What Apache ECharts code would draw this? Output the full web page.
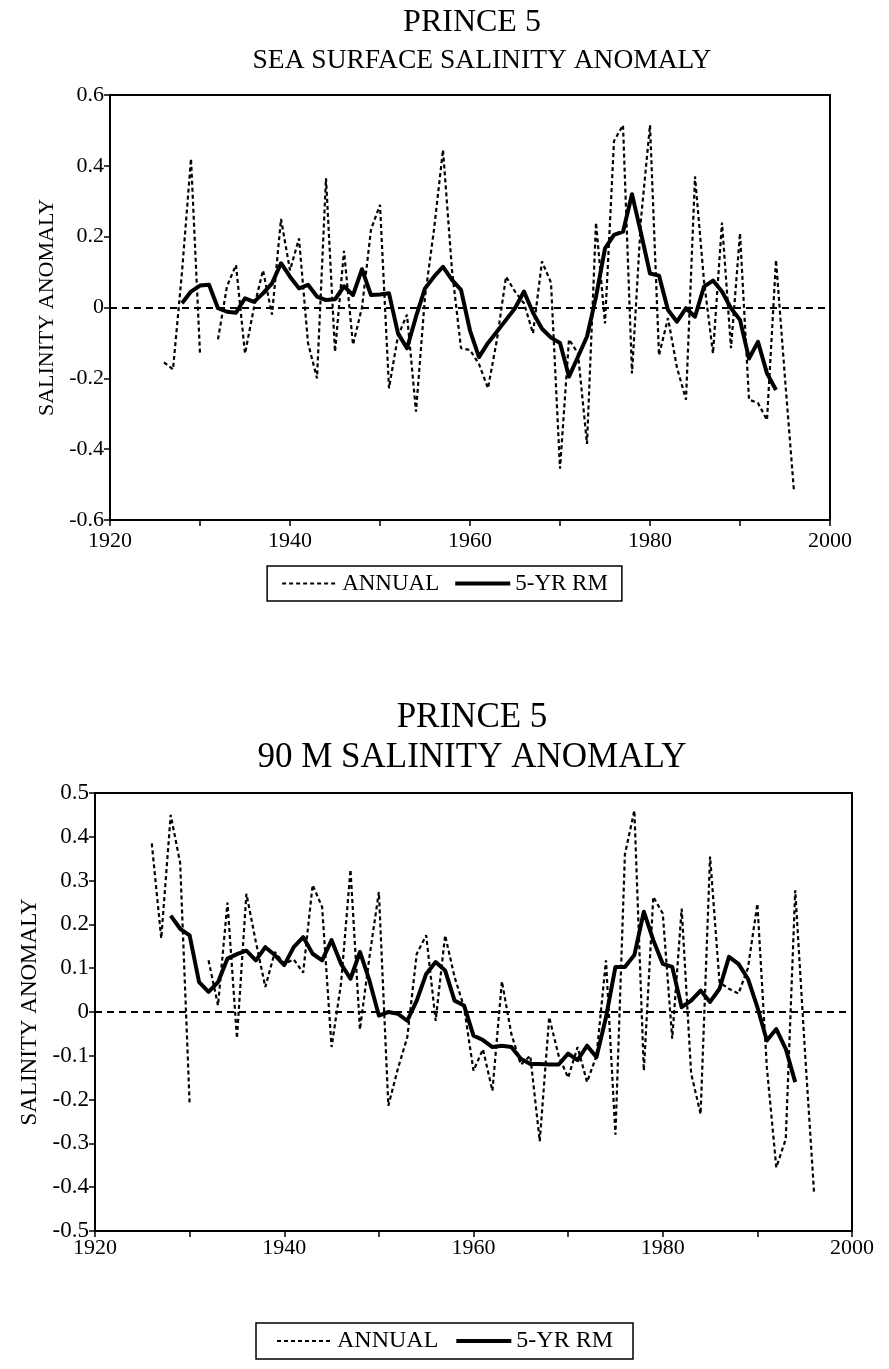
<!DOCTYPE html>
<html>
<head>
<meta charset="utf-8">
<script src="https://cdn.jsdelivr.net/npm/echarts@6/dist/echarts.min.js"></script>
<style>
html,body{margin:0;padding:0;background:#fff;}
#chart{width:889px;height:1369px;}
</style>
</head>
<body>
<div id="chart"></div>
<script>
// ---- data ----
var annualFirstYear = 1926;   // annual series: 1926 .. 1996 (1931 missing)
var rmFirstYear = 1928;       // 5-yr running mean: 1928 .. 1994

var sssAnnual = [
  -0.155, -0.175, 0.10, 0.42, -0.13, null, -0.09, 0.06, 0.12, -0.13,
  0.00, 0.105, -0.02, 0.25, 0.105, 0.195, -0.10, -0.20, 0.365, -0.125,
  0.16, -0.105, 0.00, 0.22, 0.29, -0.228, -0.08, -0.02, -0.294, 0.03,
  0.22, 0.445, 0.105, -0.115, -0.12, -0.16, -0.228, -0.09, 0.087, 0.045,
  0.012, -0.073, 0.13, 0.07, -0.455, -0.09, -0.13, -0.385, 0.24, -0.045,
  0.47, 0.515, -0.186, 0.25, 0.515, -0.135, -0.03, -0.17, -0.26, 0.37,
  0.075, -0.13, 0.24, -0.115, 0.21, -0.26, -0.27, -0.318, 0.134, -0.20,
  -0.52
];
var sssRM = [
  0.012, 0.045, 0.062, 0.064, -0.002, -0.012, -0.015, 0.026, 0.016, 0.04,
  0.068, 0.125, 0.087, 0.054, 0.064, 0.031, 0.021, 0.023, 0.06, 0.035,
  0.108, 0.035, 0.037, 0.04, -0.073, -0.115, -0.026, 0.054, 0.087, 0.115,
  0.078, 0.05, -0.065, -0.14, -0.10, -0.068, -0.035, -0.002, 0.045, -0.015,
  -0.06, -0.085, -0.10, -0.195, -0.139, -0.082, 0.03, 0.167, 0.205, 0.214,
  0.32, 0.21, 0.096, 0.09, -0.007, -0.04, -0.002, -0.026, 0.059, 0.076,
  0.045, -0.002, -0.035, -0.144, -0.097, -0.186, -0.233
];
var m90Annual = [
  0.385, 0.168, 0.45, 0.34, -0.21, null, 0.118, 0.015, 0.25, -0.06,
  0.27, 0.16, 0.057, 0.137, 0.11, 0.12, 0.09, 0.29, 0.24, -0.08,
  0.065, 0.325, -0.04, 0.125, 0.274, -0.214, -0.13, -0.058, 0.133, 0.175,
  -0.02, 0.175, 0.08, 0.011, -0.134, -0.085, -0.18, 0.07, -0.05, -0.12,
  -0.10, -0.295, -0.012, -0.10, -0.15, -0.08, -0.16, -0.10, 0.118, -0.28,
  0.36, 0.46, -0.134, 0.263, 0.225, -0.061, 0.236, -0.14, -0.233, 0.355,
  0.068, 0.053, 0.042, 0.10, 0.247, -0.126, -0.355, -0.29, 0.278, -0.08,
  -0.416
];
var m90RM = [
  0.22, 0.19, 0.175, 0.068, 0.046, 0.068, 0.122, 0.132, 0.14, 0.118,
  0.148, 0.13, 0.107, 0.148, 0.171, 0.133, 0.118, 0.164, 0.11, 0.076,
  0.137, 0.072, -0.008, 0.0, -0.004, -0.02, 0.026, 0.087, 0.114, 0.095,
  0.026, 0.015, -0.054, -0.064, -0.08, -0.077, -0.08, -0.107, -0.119, -0.119,
  -0.12, -0.12, -0.095, -0.11, -0.077, -0.103, -0.012, 0.103, 0.103, 0.13,
  0.229, 0.164, 0.11, 0.103, 0.011, 0.026, 0.049, 0.023, 0.053, 0.126,
  0.11, 0.076, 0.011, -0.065, -0.039, -0.084, -0.16
];

var titles = ['PRINCE 5', 'SEA SURFACE SALINITY ANOMALY', 'PRINCE 5', '90 M SALINITY ANOMALY'];
var legendNames = ['ANNUAL', '5-YR RM'];
var yAxisName = 'SALINITY ANOMALY';

// ---- build ----
function pairs(first, vals) {
  return vals.map(function (v, i) { return [first + i, v]; });
}
var FONT = '"Liberation Serif", "Times New Roman", serif';
var ANNUAL_DASH = [4, 3];
var ZERO_DASH = [7, 5];

function yFmt(v) {
  var s = (Math.round(v * 10) / 10).toFixed(1);
  return (s === '0.0' || s === '-0.0') ? '0' : s;
}
function xFmt(v) { return (v % 20 === 0) ? String(v) : ''; }

function xAxisCfg(gi, fs, margin) {
  return {
    type: 'value', gridIndex: gi, min: 1920, max: 2000, interval: 10,
    axisLine: { show: true, onZero: false, lineStyle: { color: '#000', width: 2 } },
    axisTick: { show: true, inside: false, length: 6, lineStyle: { color: '#000', width: 1.5 } },
    axisLabel: { formatter: xFmt, color: '#000', fontFamily: FONT, fontSize: fs, margin: margin },
    splitLine: { show: false }
  };
}
function yAxisCfg(gi, min, max, interval, fs, gap) {
  return {
    type: 'value', gridIndex: gi, min: min, max: max, interval: interval,
    name: yAxisName, nameLocation: 'middle', nameRotate: 90, nameGap: gap,
    nameTextStyle: { color: '#000', fontFamily: FONT, fontSize: fs },
    axisLine: { show: true, onZero: false, lineStyle: { color: '#000', width: 2 } },
    axisTick: { show: true, inside: false, length: 6, lineStyle: { color: '#000', width: 1.5 } },
    axisLabel: { formatter: yFmt, color: '#000', fontFamily: FONT, fontSize: fs, margin: 6 },
    splitLine: { show: false }
  };
}
function annualSeries(gi, vals) {
  return {
    name: legendNames[0], type: 'line', xAxisIndex: gi, yAxisIndex: gi,
    data: pairs(annualFirstYear, vals), symbol: 'none', showSymbol: false,
    connectNulls: false, animation: false,
    lineStyle: { color: '#000', width: 2.2, type: ANNUAL_DASH },
    itemStyle: { color: '#000' },
    markLine: {
      silent: true, symbol: ['none', 'none'], animation: false,
      label: { show: false },
      emphasis: { disabled: true },
      lineStyle: { color: '#000', width: 1.8, type: ZERO_DASH },
      data: [{ yAxis: 0 }]
    },
    z: 2
  };
}
function rmSeries(gi, vals) {
  return {
    name: legendNames[1], type: 'line', xAxisIndex: gi, yAxisIndex: gi,
    data: pairs(rmFirstYear, vals), symbol: 'none', showSymbol: false,
    animation: false,
    lineStyle: { color: '#000', width: 4, join: 'round' },
    itemStyle: { color: '#000' },
    z: 3
  };
}
function legendCfg(top, fs, padH, gap) {
  return {
    data: [
      { name: legendNames[0], lineStyle: { color: '#000', width: 2, type: ANNUAL_DASH } },
      { name: legendNames[1], lineStyle: { color: '#000', width: 4, type: 'solid' } }
    ],
    left: 'center', top: top, orient: 'horizontal',
    itemWidth: 55, itemHeight: 14, itemGap: gap,
    padding: [6, padH, 6, padH],
    borderColor: '#000', borderWidth: 1.5,
    selectedMode: false,
    itemStyle: { color: 'rgba(0,0,0,0)', borderWidth: 0, opacity: 0 },
    textStyle: { color: '#000', fontFamily: FONT, fontSize: fs }
  };
}
function txt(x, y, s, fs) {
  return {
    type: 'text', x: x, y: y,
    style: { text: s, fill: '#000', fontFamily: FONT, fontSize: fs,
      align: 'center', verticalAlign: 'middle', textAlign: 'center', textVerticalAlign: 'middle' }
  };
}

var chart = echarts.init(document.getElementById('chart'), null, { renderer: 'canvas' });
chart.setOption({
  backgroundColor: '#fff',
  animation: false,
  graphic: [
    txt(472, 23, titles[0], 32),
    txt(482, 61, titles[1], 27.5),
    txt(472, 718, titles[2], 35),
    txt(472, 758, titles[3], 35)
  ],
  grid: [
    { left: 110, width: 720, top: 95, height: 425, show: true, borderColor: '#000', borderWidth: 2, backgroundColor: 'transparent' },
    { left: 95, width: 757, top: 793, height: 438, show: true, borderColor: '#000', borderWidth: 2, backgroundColor: 'transparent' }
  ],
  xAxis: [xAxisCfg(0, 22, 10), xAxisCfg(1, 22, 6)],
  yAxis: [yAxisCfg(0, -0.6, 0.6, 0.2, 22, 48), yAxisCfg(1, -0.5, 0.5, 0.1, 23, 42)],
  legend: [legendCfg(566, 23, 14, 14), legendCfg(1323, 24, 20, 16)],
  series: [
    annualSeries(0, sssAnnual), rmSeries(0, sssRM),
    annualSeries(1, m90Annual), rmSeries(1, m90RM)
  ]
});
</script>
</body>
</html>
